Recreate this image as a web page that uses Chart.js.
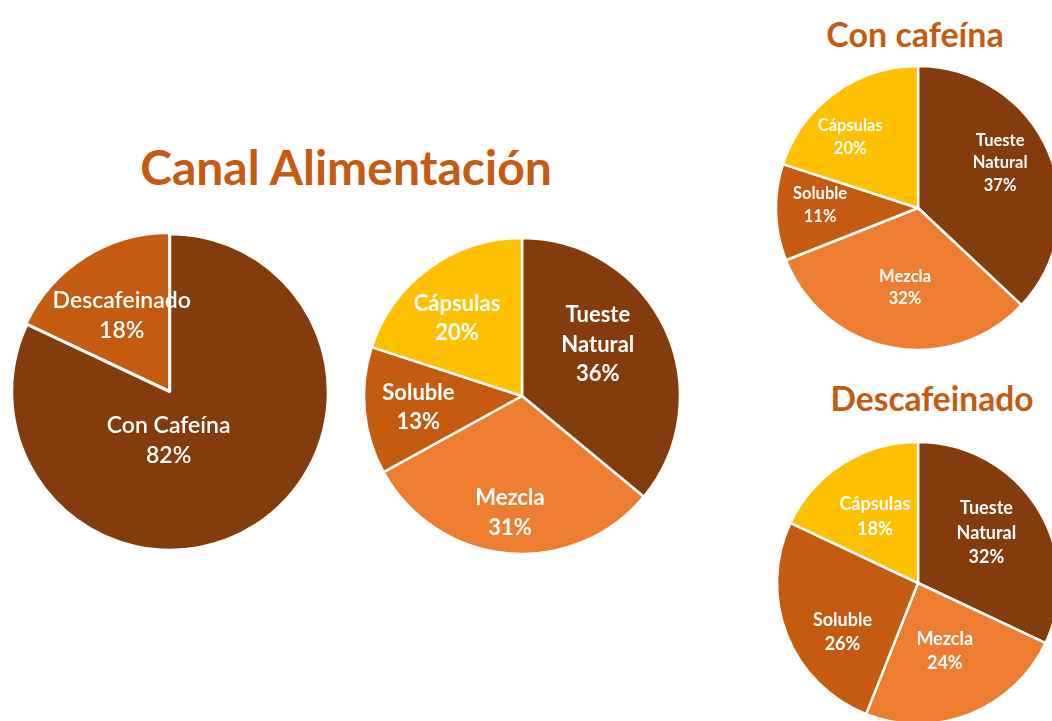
<!DOCTYPE html>
<html><head><meta charset="utf-8">
<script src="https://cdn.jsdelivr.net/npm/chart.js@4"></script>
<style>
html,body{margin:0;padding:0;background:#fff;width:1052px;height:721px;overflow:hidden;position:relative;}
canvas{position:absolute;}
.title{position:absolute;color:#C55A11;font-family:Lato,'Open Sans',sans-serif;font-weight:bold;white-space:nowrap;transform:translate(-50%,-50%);line-height:1;}
</style></head><body>
<div class="title" style="left:346px;top:167px;font-size:48px">Canal Alimentación</div>
<div class="title" style="left:915px;top:34px;font-size:34px">Con cafeína</div>
<div class="title" style="left:932px;top:399px;font-size:33.5px">Descafeinado</div>
<canvas id="c1" width="340" height="340" style="left:0px;top:222px"></canvas>
<canvas id="c2" width="340" height="340" style="left:352px;top:226px"></canvas>
<canvas id="c3" width="310" height="310" style="left:763px;top:53px"></canvas>
<canvas id="c4" width="310" height="310" style="left:763px;top:428px"></canvas>
<script>
// ---- data ----
const mainCategories = ['Con Cafeína', 'Descafeinado'];
const mainValues = [82, 18];
const typeCategories = ['Tueste Natural', 'Mezcla', 'Soluble', 'Cápsulas'];
const totalValues = [36, 31, 13, 20];
const conCafeinaValues = [37, 32, 11, 20];
const descafeinadoValues = [32, 24, 26, 18];
const mainColors = ['#843C0C', '#C55A11'];
const typeColors = ['#843C0C', '#ED7D31', '#C55A11', '#FFC000'];

const FONT = 'Lato, "Open Sans", sans-serif';

const sliceLabels = {
  id: 'sliceLabels',
  afterDatasetsDraw(chart, args, opts) {
    const ctx = chart.ctx;
    const meta = chart.getDatasetMeta(0);
    const data = chart.data.datasets[0].data;
    const total = data.reduce((a, b) => a + b, 0);
    ctx.save();
    ctx.fillStyle = '#ffffff';
    ctx.textAlign = 'center';
    ctx.textBaseline = 'middle';
    ctx.font = opts.font;
    meta.data.forEach((arc, i) => {
      const p = arc.getProps(['x', 'y', 'startAngle', 'endAngle', 'outerRadius'], true);
      const place = (opts.place && opts.place[i]) || [0, 0.62];
      const mid = (p.startAngle + p.endAngle) / 2 + place[0] * Math.PI / 180;
      const d = p.outerRadius * place[1];
      const x = p.x + Math.cos(mid) * d;
      const y = p.y + Math.sin(mid) * d;
      const lines = opts.wrap ? chart.data.labels[i].split(' ') : [chart.data.labels[i]];
      lines.push(Math.round(data[i] / total * 100) + '%');
      const lh = opts.lineHeight;
      lines.forEach((t, k) => ctx.fillText(t, x, y + (k - (lines.length - 1) / 2) * lh));
    });
    ctx.restore();
  }
};

function makePie(id, labels, values, colors, radius, labelOpts, offsets) {
  new Chart(document.getElementById(id), {
    type: 'pie',
    data: {
      labels: labels,
      datasets: [{
        data: values,
        backgroundColor: colors,
        borderColor: '#ffffff',
        borderWidth: 2.5,
        radius: radius,
        offset: offsets || 0
      }]
    },
    options: {
      responsive: false,
      animation: false,
      events: [],
      layout: { padding: 0 },
      plugins: {
        legend: { display: false },
        tooltip: { enabled: false },
        title: { display: false },
        sliceLabels: labelOpts
      }
    },
    plugins: [sliceLabels]
  });
}

makePie('c1', mainCategories, mainValues, mainColors, 158,
  { font: '600 23px ' + FONT, lineHeight: 30, wrap: false, place: [[34, 0.31], [0, 0.57]] },
  [0, 5]);
makePie('c2', typeCategories, totalValues, typeColors, 158,
  { font: 'bold 22px ' + FONT, lineHeight: 29.5, wrap: true, place: [[-9, 0.58], [0.5, 0.745], [-1, 0.66], [-4, 0.64]] });
makePie('c3', typeCategories, conCafeinaValues, typeColors, 142,
  { font: 'bold 16.5px ' + FONT, lineHeight: 22.5, wrap: true, place: [[-5.4, 0.66], [-1.6, 0.57], [3.6, 0.69], [-7.8, 0.69]] });
makePie('c4', typeCategories, descafeinadoValues, typeColors, 141,
  { font: 'bold 18px ' + FONT, lineHeight: 24.5, wrap: true, place: [[-3.7, 0.6], [0.2, 0.52], [-11.6, 0.64], [-0.7, 0.56]] });
</script>
</body></html>
